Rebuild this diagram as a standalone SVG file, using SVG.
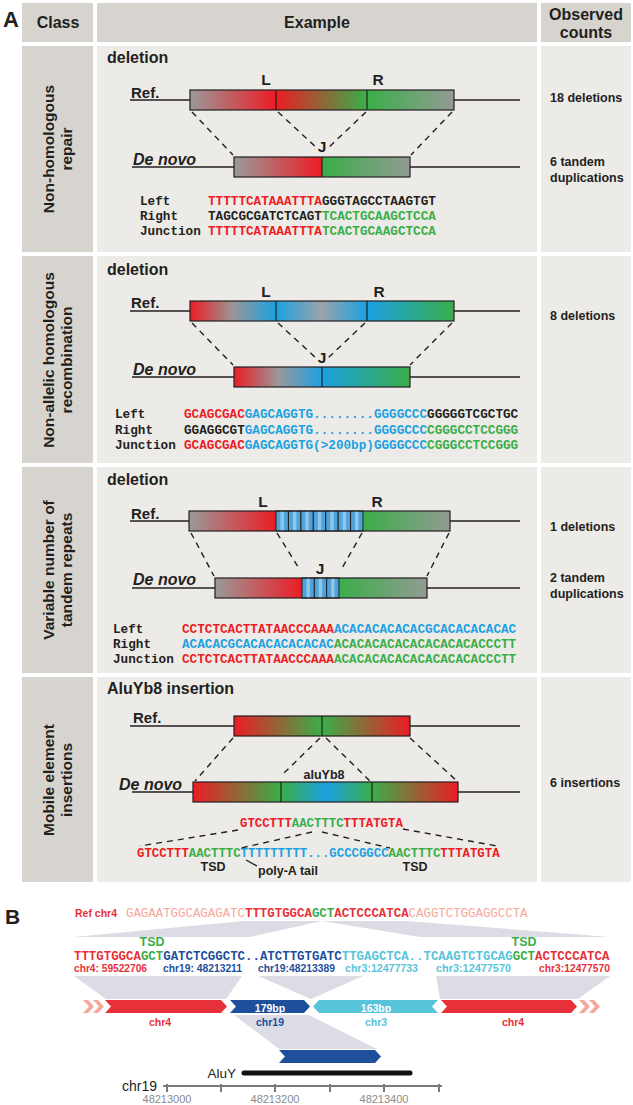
<svg xmlns="http://www.w3.org/2000/svg" width="633" height="1105" viewBox="0 0 633 1105">
<defs>
<style>
.hd{fill:#d7d4cf}.bd{fill:#edebe8}.cl{fill:#d7d4cf}
.sans{font-family:"Liberation Sans",Arial,sans-serif}
.ht{font-family:"Liberation Sans",Arial,sans-serif;font-weight:bold;font-size:16px;fill:#231f20;text-anchor:middle}
.ct{font-family:"Liberation Sans",Arial,sans-serif;font-weight:bold;font-size:15.5px;fill:#231f20;text-anchor:middle}
.cnt{font-family:"Liberation Sans",Arial,sans-serif;font-weight:bold;font-size:12.5px;fill:#231f20}
.ttl{font-family:"Liberation Sans",Arial,sans-serif;font-weight:bold;font-size:16px;fill:#231f20}
.lbl{font-family:"Liberation Sans",Arial,sans-serif;font-weight:bold;font-size:15.5px;fill:#231f20;text-anchor:middle}
.ref{font-family:"Liberation Sans",Arial,sans-serif;font-weight:bold;font-size:15px;fill:#231f20}
.dn{font-family:"Liberation Sans",Arial,sans-serif;font-weight:bold;font-style:italic;font-size:16px;fill:#231f20}
.seq{font-family:"Liberation Mono","Courier New",monospace;font-weight:bold;font-size:12.67px;fill:#231f20}
.seq4{font-family:"Liberation Mono","Courier New",monospace;font-weight:bold;font-size:12.33px}
.sm{font-family:"Liberation Sans",Arial,sans-serif;font-weight:bold;font-size:12.5px;fill:#231f20;text-anchor:middle}
.r{fill:#ec1c24}.g{fill:#3aae49}.b{fill:#1ba1e2}.k{fill:#231f20}
.line{stroke:#231f20;stroke-width:1.4;fill:none}
.box{fill:none;stroke:#231f20;stroke-width:1.2}
.div{stroke:#231f20;stroke-width:1.2}
.dash{stroke:#231f20;stroke-width:1.4;stroke-dasharray:6 5;fill:none}
.rep{fill:#4ea3dc;stroke:#231f20;stroke-width:1}
.reps{fill:#8ec6ea}
.fun{fill:#dcdce4}
.bseq{font-family:"Liberation Mono","Courier New",monospace;font-weight:bold;font-size:12.4px}
.chr{font-family:"Liberation Sans",Arial,sans-serif;font-weight:bold;font-size:10.5px}
.B1{fill:#1d4f9d}.C1{fill:#58c4da}.R1{fill:#e8303a}.S1{fill:#f5a79a}
</style>
<linearGradient id="grayRed"><stop offset="0" stop-color="#9a9a9a"/><stop offset="1" stop-color="#ec1c24"/></linearGradient>
<linearGradient id="redGreen"><stop offset="0" stop-color="#ec1c24"/><stop offset="1" stop-color="#3aae49"/></linearGradient>
<linearGradient id="greenGray"><stop offset="0" stop-color="#3aae49"/><stop offset="1" stop-color="#939b93"/></linearGradient>
<linearGradient id="greenRed"><stop offset="0" stop-color="#3aae49"/><stop offset="1" stop-color="#ec1c24"/></linearGradient>
<linearGradient id="redGrayBlue"><stop offset="0" stop-color="#ec1c24"/><stop offset="0.5" stop-color="#9a9698"/><stop offset="1" stop-color="#1ba1e2"/></linearGradient>
<linearGradient id="blueGrayBlue"><stop offset="0" stop-color="#1ba1e2"/><stop offset="0.5" stop-color="#9ba3aa"/><stop offset="1" stop-color="#1ba1e2"/></linearGradient>
<linearGradient id="blueGreen"><stop offset="0" stop-color="#1ba1e2"/><stop offset="1" stop-color="#3aae49"/></linearGradient>
<linearGradient id="greenBlueGreen"><stop offset="0" stop-color="#3aae49"/><stop offset="0.5" stop-color="#1ba1e2"/><stop offset="1" stop-color="#3aae49"/></linearGradient>
</defs>
<rect width="633" height="1105" fill="#ffffff"/>

<g id="panelA-label"><text x="3" y="27" class="sans" font-weight="bold" font-size="22" fill="#231f20">A</text></g>

<g id="header">
<rect class="hd" x="22" y="3" width="71" height="39"/>
<rect class="hd" x="97" y="3" width="440" height="39"/>
<rect class="hd" x="541" y="3" width="90" height="39"/>
<text class="ht" x="58" y="28">Class</text>
<text class="ht" x="317" y="28">Example</text>
<text class="ht" x="586" y="20">Observed</text>
<text class="ht" x="586" y="38">counts</text>
</g>

<g id="cells">
<rect class="cl" x="22" y="46" width="71" height="206"/>
<rect class="bd" x="97" y="46" width="440" height="206"/>
<rect class="bd" x="541" y="46" width="90" height="206"/>
<rect class="cl" x="22" y="256" width="71" height="207"/>
<rect class="bd" x="97" y="256" width="440" height="207"/>
<rect class="bd" x="541" y="256" width="90" height="207"/>
<rect class="cl" x="22" y="467" width="71" height="206"/>
<rect class="bd" x="97" y="467" width="440" height="206"/>
<rect class="bd" x="541" y="467" width="90" height="206"/>
<rect class="cl" x="22" y="677" width="71" height="205"/>
<rect class="bd" x="97" y="677" width="440" height="205"/>
<rect class="bd" x="541" y="677" width="90" height="205"/>
</g>

<g id="class-labels">
<g transform="translate(58,149) rotate(-90)"><text class="ct" y="-4">Non-homologous</text><text class="ct" y="14">repair</text></g>
<g transform="translate(58,360) rotate(-90)"><text class="ct" y="-4">Non-allelic homologous</text><text class="ct" y="14">recombination</text></g>
<g transform="translate(58,570) rotate(-90)"><text class="ct" y="-4">Variable number of</text><text class="ct" y="14">tandem repeats</text></g>
<g transform="translate(58,780) rotate(-90)"><text class="ct" y="-4">Mobile element</text><text class="ct" y="14">insertions</text></g>
</g>

<g id="counts">
<text class="cnt" x="550" y="102">18 deletions</text>
<text class="cnt" x="550" y="166">6 tandem</text>
<text class="cnt" x="550" y="182">duplications</text>
<text class="cnt" x="550" y="320">8 deletions</text>
<text class="cnt" x="550" y="531">1 deletions</text>
<text class="cnt" x="550" y="582">2 tandem</text>
<text class="cnt" x="550" y="598">duplications</text>
<text class="cnt" x="550" y="787">6 insertions</text>
</g>

<!-- Row 1 -->
<g id="row1-nhr">
<text class="ttl" x="107" y="63">deletion</text>
<line class="line" x1="130" y1="100" x2="520" y2="100"/>
<text class="ref" x="131" y="98">Ref.</text>
<rect x="190" y="90" width="86" height="20" fill="url(#grayRed)"/>
<rect x="276" y="90" width="91" height="20" fill="url(#redGreen)"/>
<rect x="367" y="90" width="87" height="20" fill="url(#greenGray)"/>
<rect class="box" x="190" y="90" width="264" height="20"/>
<line class="div" x1="276" y1="90" x2="276" y2="110"/><line class="div" x1="367" y1="90" x2="367" y2="110"/>
<text class="lbl" x="266" y="85">L</text><text class="lbl" x="378" y="85">R</text>
<text class="lbl" x="322" y="152">J</text>
<line class="line" x1="132" y1="167" x2="520" y2="167"/>
<text class="dn" x="133" y="165">De novo</text>
<rect x="234" y="157" width="88" height="20" fill="url(#grayRed)"/>
<rect x="322" y="157" width="88" height="20" fill="url(#greenGray)"/>
<rect class="box" x="234" y="157" width="176" height="20"/>
<line class="div" x1="322" y1="157" x2="322" y2="177"/>
<text class="seq" x="140" y="205">Left</text>
<text class="seq" x="140" y="220">Right</text>
<text class="seq" x="140" y="235">Junction</text>
<text class="seq" x="208" y="205"><tspan class="r">TTTTTCATAAATTTA</tspan><tspan class="k">GGGTAGCCTAAGTGT</tspan></text>
<text class="seq" x="208" y="220"><tspan class="k">TAGCGCGATCTCAGT</tspan><tspan class="g">TCACTGCAAGCTCCA</tspan></text>
<text class="seq" x="208" y="235"><tspan class="r">TTTTTCATAAATTTA</tspan><tspan class="g">TCACTGCAAGCTCCA</tspan></text>
</g>

<!-- Row 2 -->
<g id="row2-nahr">
<text class="ttl" x="107" y="275">deletion</text>
<line class="line" x1="130" y1="311" x2="520" y2="311"/>
<text class="ref" x="131" y="308">Ref.</text>
<rect x="190" y="301" width="86" height="20" fill="url(#redGrayBlue)"/>
<rect x="276" y="301" width="91" height="20" fill="url(#blueGrayBlue)"/>
<rect x="367" y="301" width="87" height="20" fill="url(#blueGreen)"/>
<rect class="box" x="190" y="301" width="264" height="20"/>
<line class="div" x1="276" y1="301" x2="276" y2="321"/><line class="div" x1="367" y1="301" x2="367" y2="321"/>
<text class="lbl" x="266" y="297">L</text><text class="lbl" x="379" y="297">R</text>
<text class="lbl" x="322" y="363">J</text>
<line class="line" x1="132" y1="377" x2="520" y2="377"/>
<text class="dn" x="133" y="375">De novo</text>
<rect x="234" y="367" width="88" height="20" fill="url(#redGrayBlue)"/>
<rect x="322" y="367" width="88" height="20" fill="url(#blueGreen)"/>
<rect class="box" x="234" y="367" width="176" height="20"/>
<line class="div" x1="322" y1="367" x2="322" y2="387"/>
<text class="seq" x="115" y="418">Left</text>
<text class="seq" x="115" y="434">Right</text>
<text class="seq" x="115" y="449">Junction</text>
<text class="seq" x="184" y="418"><tspan class="r">GCAGCGAC</tspan><tspan class="b">GAGCAGGTG........GGGGCCC</tspan><tspan class="k">GGGGGTCGCTGC</tspan></text>
<text class="seq" x="184" y="434"><tspan class="k">GGAGGCGT</tspan><tspan class="b">GAGCAGGTG........GGGGCCC</tspan><tspan class="g">CGGGCCTCCGGG</tspan></text>
<text class="seq" x="184" y="449"><tspan class="r">GCAGCGAC</tspan><tspan class="b">GAGCAGGTG(&gt;200bp)GGGGCCC</tspan><tspan class="g">CGGGCCTCCGGG</tspan></text>
</g>

<!-- Row 3 -->
<g id="row3-vntr">
<text class="ttl" x="107" y="485">deletion</text>
<line class="line" x1="130" y1="521" x2="520" y2="521"/>
<text class="ref" x="131" y="519">Ref.</text>
<rect x="189" y="511" width="87" height="20" fill="url(#grayRed)"/>
<rect x="363" y="511" width="87" height="20" fill="url(#greenGray)"/>
<g>
<rect class="rep" x="276" y="511" width="12.43" height="20"/><rect class="reps" x="280.5" y="511.5" width="3.5" height="19"/>
<rect class="rep" x="288.43" y="511" width="12.43" height="20"/><rect class="reps" x="292.9" y="511.5" width="3.5" height="19"/>
<rect class="rep" x="300.86" y="511" width="12.43" height="20"/><rect class="reps" x="305.3" y="511.5" width="3.5" height="19"/>
<rect class="rep" x="313.29" y="511" width="12.43" height="20"/><rect class="reps" x="317.8" y="511.5" width="3.5" height="19"/>
<rect class="rep" x="325.72" y="511" width="12.43" height="20"/><rect class="reps" x="330.2" y="511.5" width="3.5" height="19"/>
<rect class="rep" x="338.15" y="511" width="12.43" height="20"/><rect class="reps" x="342.6" y="511.5" width="3.5" height="19"/>
<rect class="rep" x="350.58" y="511" width="12.42" height="20"/><rect class="reps" x="355.0" y="511.5" width="3.5" height="19"/>
</g>
<rect class="box" x="189" y="511" width="261" height="20"/>
<text class="lbl" x="263" y="507">L</text><text class="lbl" x="377" y="507">R</text>
<text class="lbl" x="320" y="574">J</text>
<line class="line" x1="132" y1="588" x2="520" y2="588"/>
<text class="dn" x="133" y="585">De novo</text>
<rect x="215" y="578" width="87" height="20" fill="url(#grayRed)"/>
<rect x="339" y="578" width="88" height="20" fill="url(#greenGray)"/>
<g>
<rect class="rep" x="302" y="578" width="12.33" height="20"/><rect class="reps" x="306.4" y="578.5" width="3.5" height="19"/>
<rect class="rep" x="314.33" y="578" width="12.33" height="20"/><rect class="reps" x="318.7" y="578.5" width="3.5" height="19"/>
<rect class="rep" x="326.66" y="578" width="12.34" height="20"/><rect class="reps" x="331.1" y="578.5" width="3.5" height="19"/>
</g>
<rect class="box" x="215" y="578" width="212" height="20"/>
<text class="seq" x="113" y="633">Left</text>
<text class="seq" x="113" y="648">Right</text>
<text class="seq" x="113" y="663">Junction</text>
<text class="seq" x="182" y="633"><tspan class="r">CCTCTCACTTATAACCCAAA</tspan><tspan class="b">ACACACACACACGCACACACACAC</tspan></text>
<text class="seq" x="182" y="648"><tspan class="b">ACACACGCACACACACACAC</tspan><tspan class="g">ACACACACACACACACACACCCTT</tspan></text>
<text class="seq" x="182" y="663"><tspan class="r">CCTCTCACTTATAACCCAAA</tspan><tspan class="g">ACACACACACACACACACACCCTT</tspan></text>
</g>

<!-- Row 4 -->
<g id="row4-mei">
<text class="ttl" x="107" y="694">AluYb8 insertion</text>
<line class="line" x1="130" y1="726" x2="520" y2="726"/>
<text class="ref" x="133" y="723">Ref.</text>
<rect x="234" y="716" width="88" height="20" fill="url(#redGreen)"/>
<rect x="322" y="716" width="88" height="20" fill="url(#greenRed)"/>
<rect class="box" x="234" y="716" width="176" height="20"/>
<line class="div" x1="322" y1="716" x2="322" y2="736"/>
<line class="line" x1="132" y1="792" x2="520" y2="792"/>
<text class="dn" x="119" y="790">De novo</text>
<rect x="193" y="782" width="88" height="20" fill="url(#redGreen)"/>
<rect x="281" y="782" width="91" height="20" fill="url(#greenBlueGreen)"/>
<rect x="372" y="782" width="86" height="20" fill="url(#greenRed)"/>
<rect class="box" x="193" y="782" width="265" height="20"/>
<line class="div" x1="281" y1="782" x2="281" y2="802"/><line class="div" x1="372" y1="782" x2="372" y2="802"/>
<text class="sm" x="324" y="779">aluYb8</text>
<text class="seq4" x="240" y="827"><tspan class="r">GTCCTTT</tspan><tspan class="g">AACTTTC</tspan><tspan class="r">TTTATGTA</tspan></text>
<text class="seq4" x="137" y="857"><tspan class="r">GTCCTTT</tspan><tspan class="g">AACTTTC</tspan><tspan class="b">TTTTTTTTT...GCCCGGCC</tspan><tspan class="g">AACTTTC</tspan><tspan class="r">TTTATGTA</tspan></text>
<text class="sm" x="213" y="871">TSD</text>
<text class="sm" x="415" y="871">TSD</text>
<text class="sm" x="288" y="875">poly-A tail</text>
<line class="line" x1="246" y1="860" x2="257" y2="866"/>
</g>

<g id="connectors">
<line class="dash" x1="192" y1="112" x2="233" y2="155"/>
<line class="dash" x1="278" y1="112" x2="318" y2="149"/>
<line class="dash" x1="366" y1="112" x2="327" y2="149"/>
<line class="dash" x1="452" y1="112" x2="411" y2="155"/>
<line class="dash" x1="192" y1="323" x2="233" y2="365"/>
<line class="dash" x1="278" y1="323" x2="316" y2="358"/>
<line class="dash" x1="365" y1="323" x2="328" y2="358"/>
<line class="dash" x1="452" y1="323" x2="410" y2="365"/>
<line class="dash" x1="191" y1="533" x2="214" y2="576"/>
<line class="dash" x1="277" y1="533" x2="300" y2="570"/>
<line class="dash" x1="362" y1="533" x2="341" y2="570"/>
<line class="dash" x1="449" y1="533" x2="427" y2="576"/>
<line class="dash" x1="233" y1="738" x2="195" y2="781"/>
<line class="dash" x1="320" y1="738" x2="283" y2="774"/>
<line class="dash" x1="326" y1="738" x2="370" y2="781"/>
<line class="dash" x1="410" y1="738" x2="457" y2="781"/>
<line class="dash" x1="238" y1="830" x2="140" y2="846"/>
<line class="dash" x1="403" y1="829" x2="497" y2="846"/>
<line class="dash" x1="312" y1="832" x2="241" y2="848"/>
<line class="dash" x1="322" y1="832" x2="390" y2="848"/>
</g>

<!-- Panel B -->
<g id="panelB-label"><text x="5" y="924" class="sans" font-weight="bold" font-size="21" fill="#231f20">B</text></g>

<g id="funnels">
<polygon class="fun" points="244,921 322,921 250,937 74,937"/>
<polygon class="fun" points="322,921 407,921 610,937 420,937"/>
<polygon class="fun" points="74,976 242,976 226,999 106,999"/>
<polygon class="fun" points="258,976 363,976 311,999"/>
<polygon class="fun" points="436,976 610,976 578,999 440,999"/>
<polygon class="fun" points="234,1015 309,1015 377,1049 279,1049"/>
</g>

<g id="ref-chr4">
<text class="chr R1" x="75" y="917" font-size="11" textLength="42" lengthAdjust="spacingAndGlyphs">Ref chr4</text>
<text class="bseq" x="126" y="917" font-size="12.3"><tspan class="S1" font-weight="normal">GAGAATGGCAGAGATC</tspan><tspan class="R1">TTTGTGGCA</tspan><tspan class="g">GCT</tspan><tspan class="R1">ACTCCCATCA</tspan><tspan class="S1" font-weight="normal">CAGGTCTGGAGGCCTA</tspan></text>
</g>

<g id="insert-seq">
<text class="sm" x="152" y="946" style="fill:#3aae49">TSD</text>
<text class="sm" x="524" y="946" style="fill:#3aae49">TSD</text>
<text class="bseq" x="74" y="960"><tspan class="R1">TTTGTGGCA</tspan><tspan class="g">GCT</tspan><tspan class="B1">GATCTCGGCTC..ATCTTGTGATC</tspan><tspan class="C1">TTGAGCTCA..TCAAGTCTGCAG</tspan><tspan class="g">GCT</tspan><tspan class="R1">ACTCCCATCA</tspan></text>
<text class="chr R1" x="74" y="972" textLength="73" lengthAdjust="spacingAndGlyphs">chr4: 59522706</text>
<text class="chr B1" x="163" y="972" textLength="79" lengthAdjust="spacingAndGlyphs">chr19: 48213211</text>
<text class="chr B1" x="258" y="972" textLength="77" lengthAdjust="spacingAndGlyphs">chr19:48213389</text>
<text class="chr C1" x="345" y="972" textLength="73" lengthAdjust="spacingAndGlyphs">chr3:12477733</text>
<text class="chr C1" x="436" y="972" textLength="75" lengthAdjust="spacingAndGlyphs">chr3:12477570</text>
<text class="chr R1" x="539" y="972" textLength="71" lengthAdjust="spacingAndGlyphs">chr3:12477570</text>
</g>

<g id="arrows">
<polygon class="S1" points="83,1000 88,1000 94,1006.5 88,1013 83,1013 89,1006.5"/>
<polygon class="S1" points="93,1000 98,1000 104,1006.5 98,1013 93,1013 99,1006.5"/>
<polygon class="R1" points="105,1000 221,1000 227,1006.5 221,1013 105,1013 111,1006.5"/>
<polygon class="B1" points="230,1000 304,1000 310,1006.5 304,1013 230,1013 236,1006.5"/>
<polygon class="C1" points="313,1006.5 319,1000 438,1000 432,1006.5 438,1013 319,1013"/>
<polygon class="R1" points="441,1000 571,1000 577,1006.5 571,1013 441,1013 447,1006.5"/>
<polygon class="S1" points="579,1000 584,1000 590,1006.5 584,1013 579,1013 585,1006.5"/>
<polygon class="S1" points="589,1000 594,1000 600,1006.5 594,1013 589,1013 595,1006.5"/>
<text class="chr" x="270" y="1011.5" font-size="13" fill="#ffffff" text-anchor="middle">179bp</text>
<text class="chr" x="376" y="1011.5" font-size="13" fill="#ffffff" text-anchor="middle">163bp</text>
<text class="chr R1" x="160" y="1026" font-size="13" text-anchor="middle">chr4</text>
<text class="chr B1" x="270" y="1026" font-size="13" text-anchor="middle">chr19</text>
<text class="chr C1" x="376" y="1026" font-size="13" text-anchor="middle">chr3</text>
<text class="chr R1" x="513" y="1026" font-size="13" text-anchor="middle">chr4</text>
</g>

<g id="aluY-track">
<polygon class="B1" points="279,1050 375,1050 381,1056.5 375,1063 279,1063 285,1056.5"/>
<line x1="244" y1="1073" x2="410" y2="1073" stroke="#111111" stroke-width="5" stroke-linecap="round"/>
<text class="sans" x="236" y="1078" font-size="13.5" fill="#231f20" text-anchor="end">AluY</text>
</g>

<g id="chr19-axis">
<text class="sans" x="157" y="1091" font-size="14" fill="#231f20" text-anchor="end">chr19</text>
<line x1="163" y1="1086" x2="442" y2="1086" stroke="#7a7a7a" stroke-width="2"/>
<g stroke="#7a7a7a" stroke-width="2">
<line x1="167" y1="1084" x2="167" y2="1092"/><line x1="221" y1="1084" x2="221" y2="1092"/>
<line x1="275" y1="1084" x2="275" y2="1092"/><line x1="330" y1="1084" x2="330" y2="1092"/>
<line x1="384" y1="1084" x2="384" y2="1092"/><line x1="439" y1="1084" x2="439" y2="1092"/>
</g>
<g class="sans" font-size="11" fill="#8a8a8a" text-anchor="middle">
<text x="167" y="1103">48213000</text><text x="275" y="1103">48213200</text><text x="384" y="1103">48213400</text>
</g>
</g>
</svg>
